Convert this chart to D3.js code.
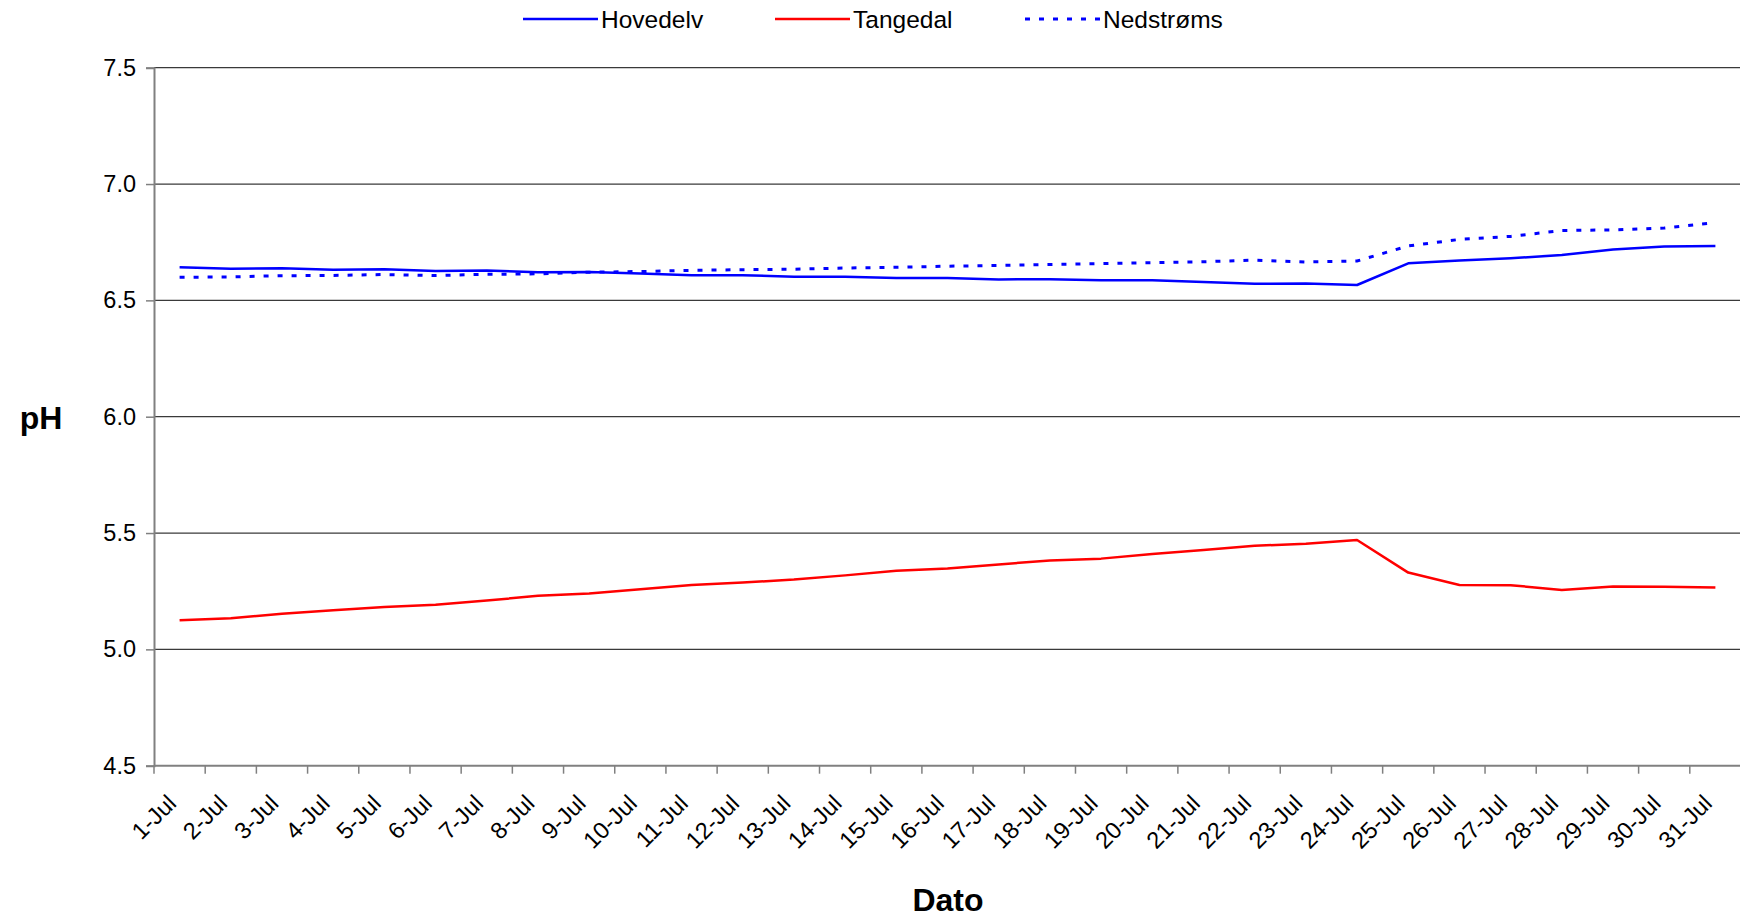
<!DOCTYPE html>
<html>
<head>
<meta charset="utf-8">
<script src="https://cdn.jsdelivr.net/npm/d3@7"></script>
<style>
  html, body { margin: 0; padding: 0; background: #fff; }
  svg { display: block; font-family: "Liberation Sans", Arial, sans-serif; }
</style>
</head>
<body>
<svg id="chart" width="1740" height="918"></svg>
<script>
const categories = ["1-Jul","2-Jul","3-Jul","4-Jul","5-Jul","6-Jul","7-Jul","8-Jul","9-Jul","10-Jul",
  "11-Jul","12-Jul","13-Jul","14-Jul","15-Jul","16-Jul","17-Jul","18-Jul","19-Jul","20-Jul",
  "21-Jul","22-Jul","23-Jul","24-Jul","25-Jul","26-Jul","27-Jul","28-Jul","29-Jul","30-Jul","31-Jul"];

const hovedelv = [6.642,6.636,6.638,6.632,6.634,6.626,6.628,6.621,6.622,6.616,
  6.608,6.608,6.602,6.602,6.596,6.596,6.590,6.591,6.586,6.586,
  6.579,6.571,6.573,6.566,6.659,6.671,6.681,6.695,6.719,6.732,6.734];

const tangedal = [5.125,5.134,5.153,5.168,5.182,5.192,5.210,5.230,5.240,5.258,
  5.277,5.287,5.300,5.318,5.338,5.348,5.365,5.382,5.390,5.410,
  5.427,5.445,5.454,5.470,5.330,5.277,5.276,5.255,5.270,5.269,5.266];

const nedstroms = [6.599,6.601,6.606,6.607,6.611,6.607,6.612,6.614,6.621,6.624,
  6.629,6.632,6.634,6.639,6.642,6.647,6.650,6.654,6.658,6.662,
  6.666,6.673,6.665,6.669,6.734,6.762,6.775,6.800,6.803,6.811,6.834];

const yTicks = [4.5,5.0,5.5,6.0,6.5,7.0,7.5];
const seriesNames = ["Hovedelv","Tangedal","Nedstrøms"];

const pL = 154, pR = 1741, pT = 67.7, pB = 765.7;
const svg = d3.select("#chart");

const x = d3.scaleBand().domain(categories).range([pL, pR]).paddingInner(0).paddingOuter(0);
const y = d3.scaleLinear().domain([4.5, 7.5]).range([pB, pT]);
const cx = d => x(d) + x.bandwidth() / 2;

// gridlines
svg.append("g").selectAll("line").data(yTicks.filter(v => v > 4.5)).join("line")
  .attr("x1", pL).attr("x2", pR)
  .attr("y1", d => y(d)).attr("y2", d => y(d))
  .attr("stroke", "#3a3a3a").attr("stroke-width", 1.2);

// Y axis
const yAxis = svg.append("g").attr("transform", `translate(${pL},0)`)
  .call(d3.axisLeft(y).tickValues(yTicks).tickFormat(d3.format(".1f")).tickSize(8).tickPadding(10));
yAxis.select(".domain").attr("stroke", "#808080").attr("stroke-width", 2);
yAxis.selectAll(".tick line").attr("stroke", "#808080").attr("stroke-width", 1.5);
yAxis.selectAll(".tick text").attr("font-size", 23.5).attr("fill", "#000")
  .attr("font-family", "Liberation Sans, Arial, sans-serif");

// X axis line
svg.append("line").attr("x1", pL).attr("x2", pR).attr("y1", pB).attr("y2", pB)
  .attr("stroke", "#808080").attr("stroke-width", 2);
// X tick marks at category boundaries
svg.append("g").selectAll("line").data(categories).join("line")
  .attr("x1", d => x(d)).attr("x2", d => x(d))
  .attr("y1", pB).attr("y2", pB + 8)
  .attr("stroke", "#808080").attr("stroke-width", 1.5);
// X tick labels
svg.append("g").selectAll("text").data(categories).join("text")
  .attr("transform", d => `translate(${cx(d) - 2},${pB + 39}) rotate(-45)`)
  .attr("text-anchor", "end")
  .attr("font-size", 23.5)
  .text(d => d);

// lines
const line = d3.line().x((d, i) => cx(categories[i])).y(d => y(d));
svg.append("path").datum(tangedal).attr("d", line)
  .attr("fill", "none").attr("stroke", "#ff0000").attr("stroke-width", 2.5).attr("stroke-linejoin", "round");
svg.append("path").datum(hovedelv).attr("d", line)
  .attr("fill", "none").attr("stroke", "#0000ff").attr("stroke-width", 2.5).attr("stroke-linejoin", "round");
svg.append("path").datum(nedstroms).attr("d", line)
  .attr("fill", "none").attr("stroke", "#0000ff").attr("stroke-width", 3).attr("stroke-dasharray", "5,9");

// legend
const legend = [
  {name: seriesNames[0], color: "#0000ff", dash: null, w: 2.5, x0: 523},
  {name: seriesNames[1], color: "#ff0000", dash: null, w: 2.5, x0: 775},
  {name: seriesNames[2], color: "#0000ff", dash: "5,9", w: 3, x0: 1025}
];
const lg = svg.append("g").selectAll("g").data(legend).join("g");
lg.append("line").attr("x1", d => d.x0).attr("x2", d => d.x0 + 75)
  .attr("y1", 19).attr("y2", 19)
  .attr("stroke", d => d.color).attr("stroke-width", d => d.w)
  .attr("stroke-dasharray", d => d.dash);
lg.append("text").attr("x", d => d.x0 + 78).attr("y", 27.5)
  .attr("font-size", 24.5).text(d => d.name);

// axis titles
svg.append("text").attr("x", 41).attr("y", 429).attr("text-anchor", "middle")
  .attr("font-size", 32).attr("font-weight", "bold").text("pH");
svg.append("text").attr("x", 948).attr("y", 911).attr("text-anchor", "middle")
  .attr("font-size", 32).attr("font-weight", "bold").text("Dato");
</script>
</body>
</html>
